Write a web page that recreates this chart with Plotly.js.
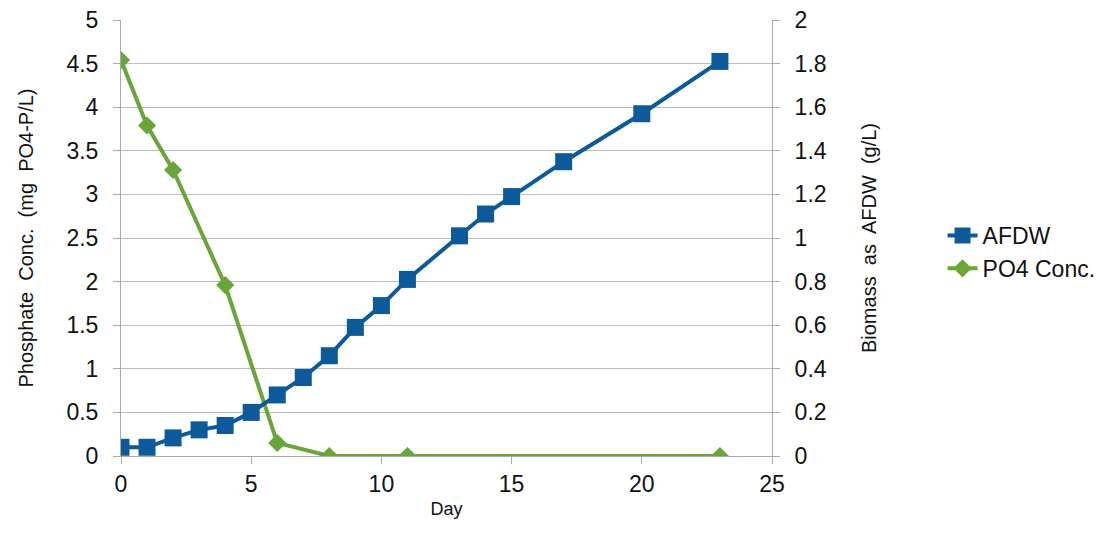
<!DOCTYPE html>
<html><head><meta charset="utf-8">
<script src="https://cdn.plot.ly/plotly-3.0.1.min.js"></script>
<style>body{margin:0;background:#fff}#c{width:1119px;height:550px}</style>
</head><body><div id="c"></div>
<script>
const afdwDays = [0,1,2,3,4,5,6,7,8,9,10,11,13,14,15,17,20,23];
const afdwValues = [0.04,0.04,0.083,0.12,0.14,0.20,0.28,0.36,0.46,0.59,0.69,0.81,1.01,1.11,1.19,1.35,1.57,1.81];
const po4Days = [0,1,2,4,6,8,11,23];
const po4Values = [4.54,3.79,3.28,1.96,0.15,0,0,0];

const font = "Liberation Sans, Arial, sans-serif";
const traces = [
  {x: afdwDays, y: afdwValues, name: 'AFDW', yaxis: 'y2', mode: 'lines+markers',
   line: {color: '#0d5a9a', width: 4}, marker: {symbol: 'square', size: 17, color: '#0d5a9a'}},
  {x: po4Days, y: po4Values, name: 'PO4 Conc.', mode: 'lines+markers',
   line: {color: '#6aa53a', width: 4}, marker: {symbol: 'diamond', size: 14, color: '#6aa53a'}}
];
const layout = {
  width: 1119, height: 550,
  margin: {l: 121, r: 347, t: 20, b: 94},
  paper_bgcolor: '#fff', plot_bgcolor: '#fff',
  font: {family: font, color: '#111'},
  showlegend: true,
  legend: {x: 1.262, xanchor: 'left', y: 0.468, yanchor: 'middle', font: {size: 23, family: font},
           traceorder: 'normal', tracegroupgap: 0},
  xaxis: {range: [0, 25], dtick: 5, tick0: 0, showgrid: false, zeroline: false,
          ticks: 'outside', ticklen: 7, tickcolor: '#aaa', showline: true, linecolor: '#aaa', linewidth: 1,
          tickfont: {size: 23, family: font},
          title: {text: 'Day', font: {size: 18, family: font}, standoff: 6}},
  yaxis: {range: [0, 5], dtick: 0.5, showgrid: true, gridcolor: '#bdbdbd', gridwidth: 1, zeroline: false,
          ticks: 'outside', ticklen: 7, tickcolor: '#aaa', showline: true, linecolor: '#aaa',
          tickfont: {size: 23, family: font}, ticklabelstandoff: 10,
          title: {text: 'Phosphate  Conc.  (mg  PO4-P/L)', font: {size: 20, family: font}, standoff: 27}},
  yaxis2: {range: [0, 2], dtick: 0.2, overlaying: 'y', side: 'right', showgrid: false, zeroline: false,
          ticks: 'outside', ticklen: 7, tickcolor: '#aaa', showline: true, linecolor: '#aaa',
          tickfont: {size: 23, family: font}, ticklabelstandoff: 10,
          title: {text: 'Biomass  as  AFDW  (g/L)', font: {size: 20, family: font}, standoff: 36}}
};
Plotly.newPlot('c', traces, layout, {displayModeBar: false});
</script></body></html>
